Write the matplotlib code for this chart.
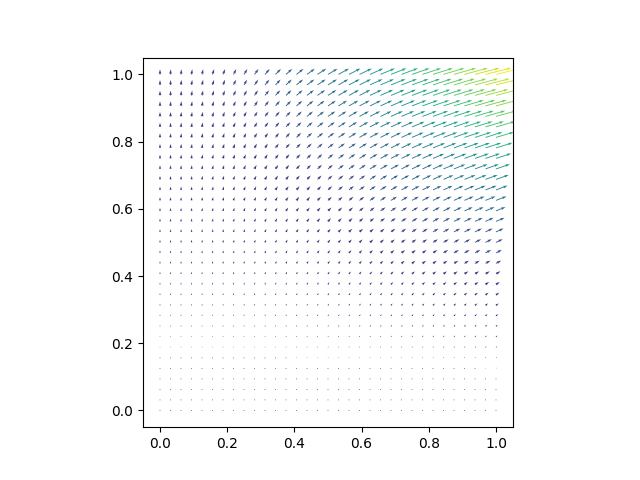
import numpy as np
import matplotlib
matplotlib.use("Agg")
from matplotlib import pyplot as plt

# grid of arrow positions (33 x 33 on the unit square)
x_vals = np.linspace(0, 1, 33)
y_vals = np.linspace(0, 1, 33)
X, Y = np.meshgrid(x_vals, y_vals)

# vector field
U = 5.4 * X**1.5 * Y**2
V = Y * (1 + 0.3 * X)
M = np.hypot(U, V)

fig, ax = plt.subplots(figsize=(6.4, 4.8), dpi=100)
ax.quiver(X, Y, U, V, M, cmap="viridis", scale=74)
ax.set_aspect("equal")

plt.savefig("out.png")
